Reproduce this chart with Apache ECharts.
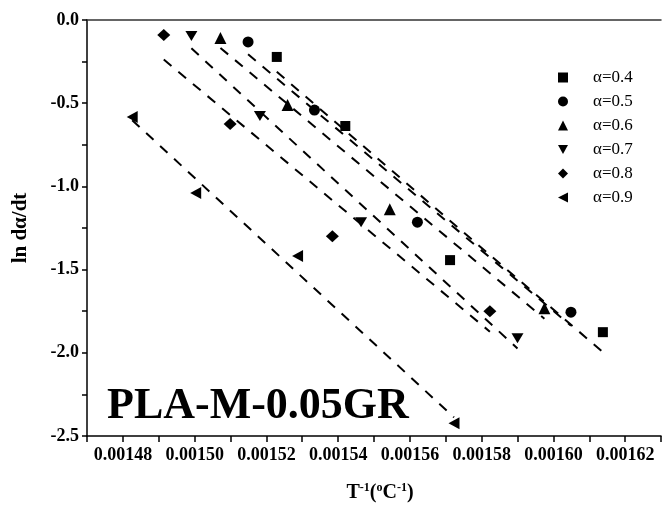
<!DOCTYPE html>
<html>
<head>
<meta charset="utf-8">
<script src="https://cdn.jsdelivr.net/npm/echarts@6/dist/echarts.min.js"></script>
<style>html,body{margin:0;padding:0;background:#fff;}#chart{width:664px;height:510px;}</style>
</head>
<body>
<div id="chart"></div>
<script>
// ---- data ----
const seriesNames = ['α=0.4', 'α=0.5', 'α=0.6', 'α=0.7', 'α=0.8', 'α=0.9'];

const x04 = [0.0015229, 0.0015420, 0.0015712, 0.0016138];
const y04 = [-0.222, -0.637, -1.443, -1.876];
const x05 = [0.0015149, 0.0015334, 0.0015621, 0.0016049];
const y05 = [-0.132, -0.541, -1.215, -1.756];
const x06 = [0.0015072, 0.0015259, 0.0015544, 0.0015975];
const y06 = [-0.108, -0.511, -1.137, -1.732];
const x07 = [0.0014991, 0.0015182, 0.0015464, 0.0015900];
const y07 = [-0.096, -0.577, -1.215, -1.912];
const x08 = [0.0014914, 0.0015099, 0.0015384, 0.0015823];
const y08 = [-0.090, -0.625, -1.299, -1.750];
const x09 = [0.0014826, 0.0015003, 0.0015287, 0.0015723];
const y09 = [-0.583, -1.040, -1.419, -2.423];

// dashed fit lines: end points
const fitX04 = [0.0015229, 0.0016138]; const fitY04 = [-0.311, -1.996];
const fitX05 = [0.0015149, 0.0016049]; const fitY05 = [-0.206, -1.837];
const fitX06 = [0.0015072, 0.0015975]; const fitY06 = [-0.168, -1.795];
const fitX07 = [0.0014991, 0.0015900]; const fitY07 = [-0.170, -1.974];
const fitX08 = [0.0014914, 0.0015823]; const fitY08 = [-0.238, -1.873];
const fitX09 = [0.0014826, 0.0015723]; const fitY09 = [-0.602, -2.388];

const xMin = 0.00147, xMax = 0.00163, xStep = 0.00001;
const yMin = -2.5, yMax = 0, yStep = 0.25;

// ---- build ----
const xsAll = [x04, x05, x06, x07, x08, x09];
const ysAll = [y04, y05, y06, y07, y08, y09];
const fitXs = [fitX04, fitX05, fitX06, fitX07, fitX08, fitX09];
const fitYs = [fitY04, fitY05, fitY06, fitY07, fitY08, fitY09];
const symbols = ['rect', 'circle', 'triangle', 'path://M0,0L10,0L5,9Z', 'diamond', 'path://M10,0L10,10L0,5Z'];
const sizes = [10, 11, 12, [12, 10], [13, 12], [11, 12]];

const serif = 'Liberation Serif';
const series = [];
for (let i = 0; i < 6; i++) {
  series.push({
    name: 'fit' + i,
    type: 'line',
    data: fitXs[i].map((x, j) => [x, fitYs[i][j]]),
    showSymbol: false,
    silent: true,
    z: 2,
    lineStyle: { color: '#000', width: 2, type: [10, 9] }
  });
}
for (let i = 0; i < 6; i++) {
  series.push({
    name: seriesNames[i],
    type: 'scatter',
    data: xsAll[i].map((x, j) => [x, ysAll[i][j]]),
    symbol: symbols[i],
    symbolSize: sizes[i],
    z: 3,
    itemStyle: { color: '#000', opacity: 1 }
  });
}

const chart = echarts.init(document.getElementById('chart'), null, { renderer: 'canvas' });
chart.setOption({
  backgroundColor: '#fff',
  animation: false,
  title: {
    text: 'PLA-M-0.05GR',
    left: 102, top: 380,
    textStyle: { fontFamily: serif, fontWeight: 'bold', fontSize: 44, color: '#000' }
  },
  legend: {
    data: seriesNames,
    orient: 'vertical',
    left: 553, top: 64,
    itemWidth: 10, itemHeight: 10, itemGap: 7,
    textStyle: { fontFamily: serif, fontSize: 17, color: '#000', padding: [0, 0, 0, 20] }
  },
  grid: { left: 87, top: 20, width: 579, height: 416 },
  xAxis: [{
    type: 'value', min: xMin, max: xMax, interval: xStep,
    name: '{b|T}{s|-1}{b|(}{s|o}{b|C}{s|-1}{b|)}',
    nameLocation: 'middle', nameGap: 46,
    nameTextStyle: {
      padding: [0, 0, 0, 12],
      rich: {
        b: { fontFamily: serif, fontWeight: 'bold', fontSize: 20, color: '#000' },
        s: { fontFamily: serif, fontWeight: 'bold', fontSize: 12, color: '#000', padding: [0, 0, 10, 0] }
      }
    },
    splitLine: { show: false },
    axisLine: { onZero: false, lineStyle: { color: '#000', width: 1.5 } },
    axisTick: { inside: false, length: 6, lineStyle: { color: '#000', width: 1.5 } },
    axisLabel: {
      margin: 10, color: '#000', fontFamily: serif, fontWeight: 'bold', fontSize: 18,
      showMaxLabel: true, showMinLabel: true,
      formatter: v => { const n = Math.round(v * 1e5); return n % 2 === 0 ? (n / 1e5).toFixed(5) : ''; }
    }
  }, {
    type: 'value', min: xMin, max: xMax, position: 'top',
    axisLine: { onZero: false, lineStyle: { color: '#333', width: 1.5 } },
    axisTick: { show: false }, axisLabel: { show: false }, splitLine: { show: false }
  }],
  yAxis: {
    type: 'value', min: yMin, max: yMax, interval: yStep,
    name: 'ln dα/dt',
    nameLocation: 'middle', nameGap: 56, nameRotate: 90,
    nameTextStyle: { fontFamily: serif, fontWeight: 'bold', fontSize: 21, color: '#000' },
    splitLine: { show: false },
    axisLine: { onZero: false, lineStyle: { color: '#000', width: 1.5 } },
    axisTick: { inside: false, length: 5, lineStyle: { color: '#000', width: 1.5 } },
    axisLabel: {
      margin: 8, color: '#000', fontFamily: serif, fontWeight: 'bold', fontSize: 18,
      formatter: v => Math.abs(v * 2 - Math.round(v * 2)) < 1e-6 ? v.toFixed(1) : ''
    }
  },
  series: series
});
</script>
</body>
</html>
